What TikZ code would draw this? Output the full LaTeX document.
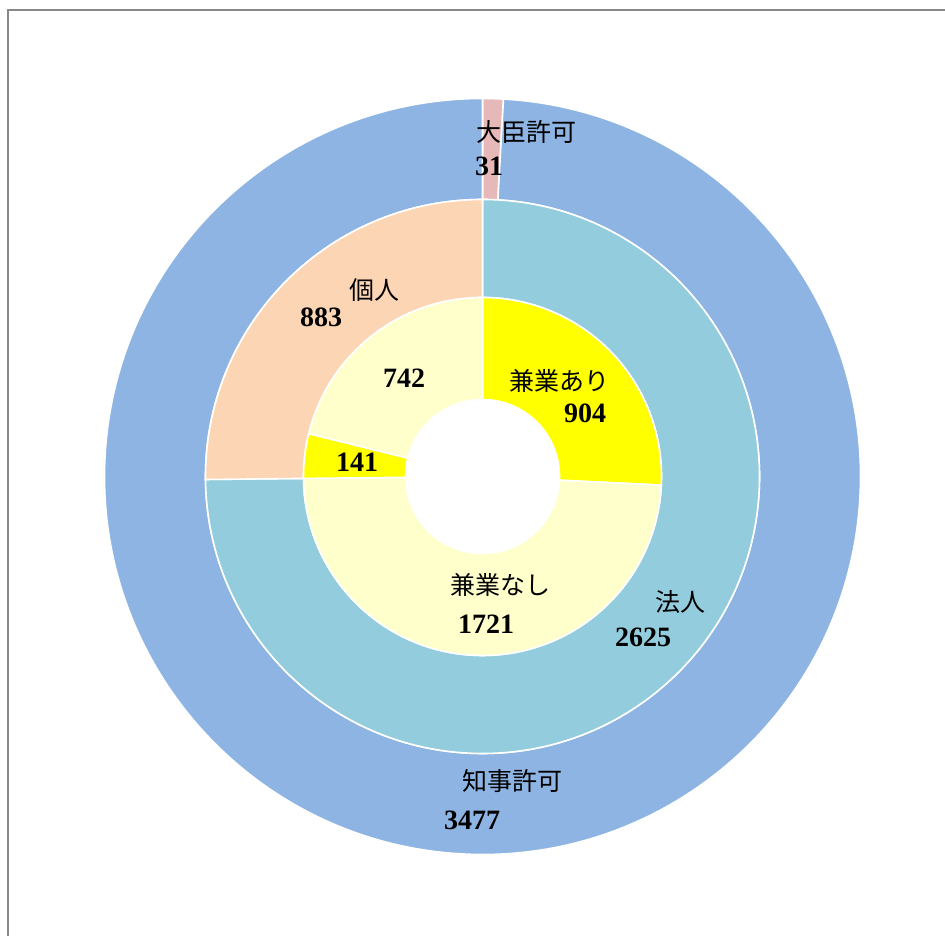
\documentclass[tikz,border=0pt]{standalone}
\usepackage{fontspec}
\setmainfont{Liberation Serif}
\newfontfamily\jpfont{Noto Sans CJK JP}
\definecolor{chijiblue}{RGB}{142,180,227}
\definecolor{daijinpink}{RGB}{230,185,184}
\definecolor{houjinaqua}{RGB}{147,205,221}
\definecolor{kojinpeach}{RGB}{252,213,181}
\definecolor{kenyellow}{RGB}{255,255,0}
\definecolor{lightyel}{RGB}{255,255,204}
\definecolor{framegray}{RGB}{136,136,136}
\newcommand{\ringseg}[5]{%
  \fill[#5, draw=white, line width=1.6pt] (#3:#2) arc[start angle=#3, end angle=#4, radius=#2] -- (#4:#1) arc[start angle=#4, end angle=#3, radius=#1] -- cycle;}
\tikzset{
  jlab/.style={inner sep=0pt, font=\jpfont\fontsize{25}{25}\selectfont},
  nlab/.style={inner sep=0pt, font=\bfseries\fontsize{28}{28}\selectfont}
}
\begin{document}
\begin{tikzpicture}[x=1pt,y=1pt]
\useasboundingbox (0,0) rectangle (945,936);
\fill[white] (0,0) rectangle (945,936);
\draw[framegray, line width=2pt] (8,0) -- (8,926) -- (945,926);
\begin{scope}[shift={(482.5,459.5)}]
  % outer ring
  \ringseg{277}{378}{90}{86.82}{daijinpink}
  \ringseg{277}{378}{86.82}{-270}{chijiblue}
  % middle ring
  \ringseg{179}{277}{90}{-179.38}{houjinaqua}
  \ringseg{179}{277}{-179.38}{-270}{kojinpeach}
  % inner ring
  \ringseg{77}{179}{90}{-2.77}{kenyellow}
  \ringseg{77}{179}{-2.77}{-179.38}{lightyel}
  \ringseg{77}{179}{-179.38}{-193.85}{kenyellow}
  \ringseg{77}{179}{-193.85}{-270}{lightyel}
\end{scope}
% labels (image y -> 936 - y)
\node[jlab] (daijin) at (526,804) {大臣許可};
\node[nlab] (n31) at (489,770) {31};
\node[jlab] (kojin) at (374,646) {個人};
\node[nlab] (n883) at (321,619) {883};
\node[nlab] (n742) at (404,558) {742};
\node[jlab] (kenari) at (559,555) {兼業あり};
\node[nlab] (n904) at (585,523) {904};
\node[nlab] (n141) at (357,474) {141};
\node[jlab] (kennashi) at (500,351) {兼業なし};
\node[nlab] (n1721) at (486,312) {1721};
\node[jlab] (houjin) at (680,334) {法人};
\node[nlab] (n2625) at (643,299) {2625};
\node[jlab] (chiji) at (512,155) {知事許可};
\node[nlab] (n3477) at (472,116) {3477};
\end{tikzpicture}
\end{document}
